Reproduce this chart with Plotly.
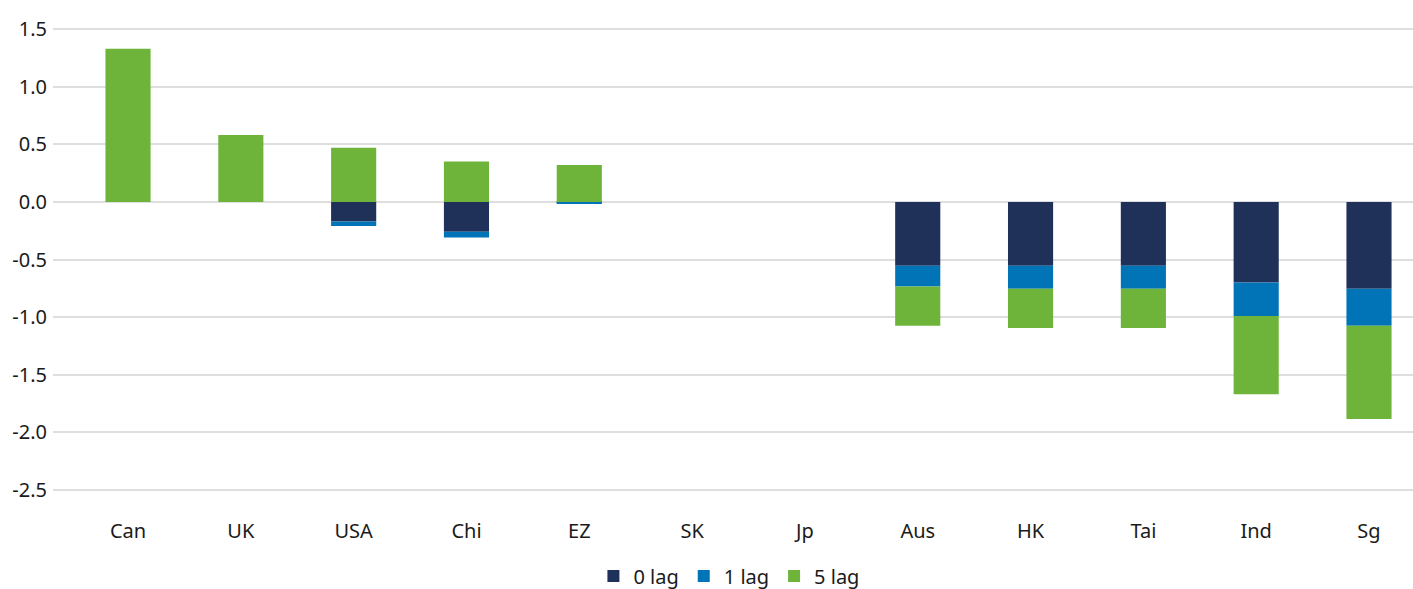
import plotly.graph_objects as go

countries = ["Can", "UK", "USA", "Chi", "EZ", "SK", "Jp", "Aus", "HK", "Tai", "Ind", "Sg"]
lag0 = [0.0, 0.0, -0.17, -0.26, -0.005, 0.0, 0.0, -0.555, -0.555, -0.555, -0.70, -0.755]
lag1 = [0.0, 0.0, -0.04, -0.05, -0.005, 0.0, 0.0, -0.18, -0.20, -0.20, -0.29, -0.32]
lag5 = [1.33, 0.58, 0.47, 0.35, 0.32, 0.0, 0.0, -0.34, -0.34, -0.34, -0.68, -0.81]

y_ticks = [1.5, 1.0, 0.5, 0.0, -0.5, -1.0, -1.5, -2.0, -2.5]
y_tick_text = ["1.5", "1.0", "0.5", "0.0", "-0.5", "-1.0", "-1.5", "-2.0", "-2.5"]

series = [
    ("0 lag", lag0, "#1f3158"),
    ("1 lag", lag1, "#0174b7"),
    ("5 lag", lag5, "#6eb43b"),
]

fig = go.Figure()
for name, vals, color in series:
    fig.add_trace(go.Bar(
        x=countries, y=vals, name=name,
        marker=dict(color=color, line=dict(width=0)),
        width=0.4,
    ))

fig.update_layout(
    width=1413, height=589,
    barmode="relative",
    plot_bgcolor="white", paper_bgcolor="white",
    margin=dict(l=53, r=0, t=28, b=98, autoexpand=False),
    font=dict(family="Noto Sans", size=20, color="#1a1a1a"),
    xaxis=dict(
        range=[-0.665, 11.39], showgrid=False, zeroline=False,
        showline=False, ticks="", tickfont=dict(size=20),
        ticklabelstandoff=26,
    ),
    yaxis=dict(
        range=[-2.51, 1.51], tickvals=y_ticks, ticktext=y_tick_text,
        showgrid=True, gridcolor="#dedede", gridwidth=2,
        zeroline=True, zerolinecolor="#dedede", zerolinewidth=2,
        ticks="", ticklabelstandoff=5, tickfont=dict(size=20),
        showline=False,
    ),
    legend=dict(
        orientation="h", x=0.497, xanchor="center",
        yref="container", y=0.022, yanchor="middle",
        font=dict(size=20), traceorder="normal", itemwidth=30,
    ),
    bargap=0.6,
)

fig.write_html("out.html")
